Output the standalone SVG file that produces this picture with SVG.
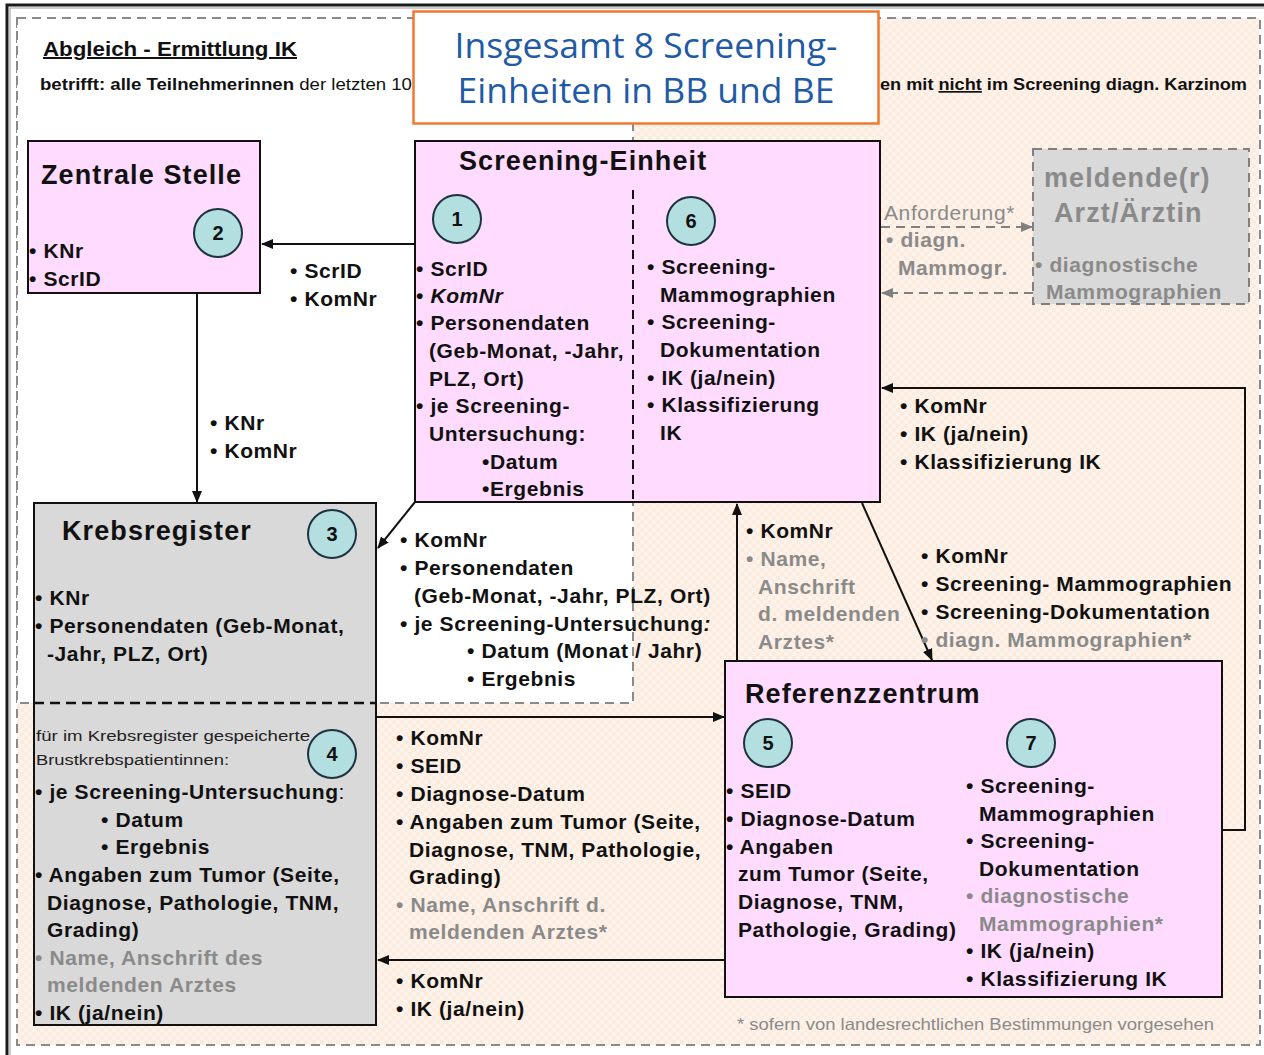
<svg xmlns="http://www.w3.org/2000/svg" width="1264" height="1055" viewBox="0 0 1264 1055">
<defs>
<style>
text{font-family:"Liberation Sans",Arial,sans-serif}
.b{font-weight:bold;font-size:21px;letter-spacing:0.6px;fill:#111}
.ttl{font-weight:bold;font-size:27px;letter-spacing:1.1px;fill:#111}
.g,.ttl.g,.b.g{fill:#8a8a8a}
.sm{font-size:15.5px;fill:#222}
.box{stroke:#111;stroke-width:2}
.pink{fill:#ffdcff}
.grey{fill:#d9d9d9}
.circ{fill:#b3dfe0;stroke:#1d3340;stroke-width:2}
.num{font-weight:bold;font-size:20px;fill:#111;text-anchor:middle}
.con{fill:none;stroke:#111;stroke-width:2}
.dcon{fill:none;stroke:#808080;stroke-width:2;stroke-dasharray:9 6}
</style>
<pattern id="peach" width="8" height="8" patternUnits="userSpaceOnUse">
<rect width="8" height="8" fill="#fef3ea"/>
<rect width="4" height="4" fill="#fcece0"/>
<rect x="4" y="4" width="4" height="4" fill="#fcece0"/>
</pattern>
<marker id="ah" markerWidth="12" markerHeight="10" refX="11" refY="5" orient="auto" markerUnits="userSpaceOnUse">
<path d="M0,0 L12,5 L0,10 Z" fill="#111"/>
</marker>
<marker id="ahg" markerWidth="12" markerHeight="10" refX="11" refY="5" orient="auto" markerUnits="userSpaceOnUse">
<path d="M0,0 L12,5 L0,10 Z" fill="#808080"/>
</marker>
</defs>

<rect width="1264" height="1055" fill="#fff"/>
<!-- outer frame -->
<rect x="7" y="5" width="1280" height="1080" fill="none" stroke="#1a1a1a" stroke-width="3"/>
<rect x="10" y="8" width="1280" height="1080" fill="none" stroke="#9a9a9a" stroke-width="1"/>

<!-- background regions -->
<rect x="17" y="18" width="1243" height="1027" fill="url(#peach)" stroke="#8a8a8a" stroke-width="2" stroke-dasharray="9 6"/>
<rect x="17" y="18" width="616" height="685" fill="#fff" stroke="#8a8a8a" stroke-width="2" stroke-dasharray="9 6"/>

<!-- header -->
<g id="header">
<text x="43" y="56" textLength="254" lengthAdjust="spacingAndGlyphs" style="font-weight:bold;font-size:20px;fill:#111;text-decoration:underline">Abgleich - Ermittlung IK</text>
<text x="40" y="90" textLength="372" lengthAdjust="spacingAndGlyphs" style="font-size:17px;fill:#111"><tspan font-weight="bold">betrifft: alle Teilnehmerinnen</tspan> der letzten 10</text>
<text x="880" y="90" textLength="367" lengthAdjust="spacingAndGlyphs" style="font-size:17px;fill:#111;font-weight:bold">en mit <tspan text-decoration="underline">nicht</tspan> im Screening diagn. Karzinom</text>
</g>

<g id="title">
<rect x="413.5" y="11.5" width="465" height="112" fill="#fff" stroke="#f07830" stroke-width="2.5"/>
<text x="646" y="58" text-anchor="middle" style="font-family:'Open Sans','Noto Sans',sans-serif;font-size:35.5px;fill:#1f5aa6">Insgesamt 8 Screening-</text>
<text x="646" y="103" text-anchor="middle" style="font-family:'Open Sans','Noto Sans',sans-serif;font-size:35.5px;fill:#1f5aa6">Einheiten in BB und BE</text>
</g>

<!-- connectors -->
<g id="connectors">
<line class="con" x1="415" y1="244" x2="262" y2="244" marker-end="url(#ah)"/>
<line class="con" x1="197" y1="293" x2="197" y2="502" marker-end="url(#ah)"/>
<line class="con" x1="415" y1="502" x2="378" y2="548" marker-end="url(#ah)"/>
<line class="con" x1="376" y1="717" x2="724" y2="717" marker-end="url(#ah)"/>
<line class="con" x1="725" y1="960" x2="378" y2="960" marker-end="url(#ah)"/>
<line class="con" x1="737" y1="661" x2="737" y2="504" marker-end="url(#ah)"/>
<line class="con" x1="862" y1="503" x2="932" y2="660" marker-end="url(#ah)"/>
<polyline class="con" points="1222,830 1245,830 1245,388 882,388" marker-end="url(#ah)"/>
<line class="dcon" x1="881" y1="227" x2="1032" y2="227" marker-end="url(#ahg)"/>
<line class="dcon" x1="1033" y1="293" x2="882" y2="293" marker-end="url(#ahg)"/>

<text class="b" x="290" y="278">• ScrID</text>
<text class="b" x="290" y="306">• KomNr</text>

<text class="b" x="210" y="430">• KNr</text>
<text class="b" x="210" y="458">• KomNr</text>

<text class="b" x="400" y="547">• KomNr</text>
<text class="b" x="400" y="575">• Personendaten</text>
<text class="b" x="414" y="603">(Geb-Monat, -Jahr, PLZ, Ort)</text>
<text class="b" x="400" y="631">• je Screening-Untersuchung<tspan font-style="italic">:</tspan></text>
<text class="b" x="467" y="658">• Datum (Monat / Jahr)</text>
<text class="b" x="467" y="686">• Ergebnis</text>

<text class="b" x="396" y="745">• KomNr</text>
<text class="b" x="396" y="773">• SEID</text>
<text class="b" x="396" y="801">• Diagnose-Datum</text>
<text class="b" x="396" y="829">• Angaben zum Tumor (Seite,</text>
<text class="b" x="409" y="857">Diagnose, TNM, Pathologie,</text>
<text class="b" x="409" y="884">Grading)</text>
<text class="b g" x="396" y="912">• Name, Anschrift d.</text>
<text class="b g" x="409" y="939">meldenden Arztes*</text>

<text class="b" x="396" y="988">• KomNr</text>
<text class="b" x="396" y="1016">• IK (ja/nein)</text>

<text class="b" x="746" y="538">• KomNr</text>
<text class="b g" x="746" y="566">• Name,</text>
<text class="b g" x="758" y="594">Anschrift</text>
<text class="b g" x="758" y="621">d. meldenden</text>
<text class="b g" x="758" y="649">Arztes*</text>

<text class="b" x="921" y="563">• KomNr</text>
<text class="b" x="921" y="591">• Screening- Mammographien</text>
<text class="b" x="921" y="619">• Screening-Dokumentation</text>
<text class="b g" x="921" y="647">• diagn. Mammographien*</text>

<text class="b" x="900" y="413">• KomNr</text>
<text class="b" x="900" y="441">• IK (ja/nein)</text>
<text class="b" x="900" y="469">• Klassifizierung IK</text>

<text class="b g" x="884" y="220" style="font-weight:normal">Anforderung*</text>
<text class="b g" x="886" y="247">• diagn.</text>
<text class="b g" x="898" y="275">Mammogr.</text>
</g>

<!-- Zentrale Stelle -->
<g id="zentrale">
<rect class="box pink" x="28" y="141" width="232" height="152"/>
<text class="ttl" x="41" y="184">Zentrale Stelle</text>
<circle class="circ" cx="218" cy="233" r="24"/>
<text class="num" x="218" y="240">2</text>
<text class="b" x="29" y="258">• KNr</text>
<text class="b" x="29" y="286">• ScrID</text>
</g>

<!-- Screening-Einheit -->
<g id="screening">
<rect class="box pink" x="415" y="141" width="465" height="361"/>
<text class="ttl" x="459" y="170">Screening-Einheit</text>
<line x1="633" y1="190" x2="633" y2="502" stroke="#111" stroke-width="2" stroke-dasharray="9 6"/>
<circle class="circ" cx="457" cy="219" r="24"/>
<text class="num" x="457" y="226">1</text>
<circle class="circ" cx="691" cy="221" r="24"/>
<text class="num" x="691" y="228">6</text>
<text class="b" x="416" y="276">• ScrID</text>
<text class="b" x="416" y="303">• <tspan font-style="italic">KomNr</tspan></text>
<text class="b" x="416" y="330">• Personendaten</text>
<text class="b" x="429" y="358">(Geb-Monat, -Jahr,</text>
<text class="b" x="429" y="386">PLZ, Ort)</text>
<text class="b" x="416" y="413">• je Screening-</text>
<text class="b" x="429" y="441">Untersuchung:</text>
<text class="b" x="482" y="469">•Datum</text>
<text class="b" x="482" y="496">•Ergebnis</text>
<text class="b" x="647" y="274">• Screening-</text>
<text class="b" x="660" y="302">Mammographien</text>
<text class="b" x="647" y="329">• Screening-</text>
<text class="b" x="660" y="357">Dokumentation</text>
<text class="b" x="647" y="385">• IK (ja/nein)</text>
<text class="b" x="647" y="412">• Klassifizierung</text>
<text class="b" x="660" y="440">IK</text>
</g>

<!-- meldende Arzt -->
<g id="arzt">
<rect x="1033" y="149" width="216" height="155" fill="#d9d9d9" stroke="#808080" stroke-width="2" stroke-dasharray="9 6"/>
<text class="ttl g" x="1044" y="187">meldende(r)</text>
<text class="ttl g" x="1054" y="222">Arzt/Ärztin</text>
<text class="b g" x="1035" y="272">• diagnostische</text>
<text class="b g" x="1046" y="299">Mammographien</text>
</g>

<!-- Krebsregister -->
<g id="krebsregister">
<rect class="box grey" x="34" y="503" width="342" height="522"/>
<line x1="34" y1="703" x2="376" y2="703" stroke="#111" stroke-width="2.5" stroke-dasharray="10 6"/>
<text class="ttl" x="62" y="540">Krebsregister</text>
<circle class="circ" cx="332" cy="534" r="24"/>
<text class="num" x="332" y="541">3</text>
<text class="b" x="35" y="605">• KNr</text>
<text class="b" x="35" y="633">• Personendaten (Geb-Monat,</text>
<text class="b" x="47" y="661">-Jahr, PLZ, Ort)</text>
<text class="sm" x="36" y="741" textLength="274" lengthAdjust="spacingAndGlyphs">für im Krebsregister gespeicherte</text>
<text class="sm" x="36" y="765" textLength="193" lengthAdjust="spacingAndGlyphs">Brustkrebspatientinnen:</text>
<circle class="circ" cx="332" cy="754" r="24"/>
<text class="num" x="332" y="761">4</text>
<text class="b" x="35" y="799">• je Screening-Untersuchung<tspan font-weight="normal">:</tspan></text>
<text class="b" x="101" y="827">• Datum</text>
<text class="b" x="101" y="854">• Ergebnis</text>
<text class="b" x="35" y="882">• Angaben zum Tumor (Seite,</text>
<text class="b" x="47" y="910">Diagnose, Pathologie, TNM,</text>
<text class="b" x="47" y="937">Grading)</text>
<text class="b g" x="35" y="965">• Name, Anschrift des</text>
<text class="b g" x="47" y="992">meldenden Arztes</text>
<text class="b" x="35" y="1020">• IK (ja/nein)</text>
</g>

<!-- Referenzzentrum -->
<g id="referenz">
<rect class="box pink" x="725" y="661" width="497" height="336"/>
<text class="ttl" x="745" y="703">Referenzzentrum</text>
<circle class="circ" cx="768" cy="743" r="24"/>
<text class="num" x="768" y="750">5</text>
<circle class="circ" cx="1031" cy="743" r="24"/>
<text class="num" x="1031" y="750">7</text>
<text class="b" x="726" y="798">• SEID</text>
<text class="b" x="726" y="826">• Diagnose-Datum</text>
<text class="b" x="726" y="854">• Angaben</text>
<text class="b" x="738" y="881">zum Tumor (Seite,</text>
<text class="b" x="738" y="909">Diagnose, TNM,</text>
<text class="b" x="738" y="937">Pathologie, Grading)</text>
<text class="b" x="966" y="793">• Screening-</text>
<text class="b" x="979" y="821">Mammographien</text>
<text class="b" x="966" y="848">• Screening-</text>
<text class="b" x="979" y="876">Dokumentation</text>
<text class="b g" x="966" y="903">• diagnostische</text>
<text class="b g" x="979" y="931">Mammographien*</text>
<text class="b" x="966" y="958">• IK (ja/nein)</text>
<text class="b" x="966" y="986">• Klassifizierung IK</text>
</g>

<text x="737" y="1030" textLength="477" lengthAdjust="spacingAndGlyphs" style="font-size:16.5px;fill:#8a8a8a">* sofern von landesrechtlichen Bestimmungen  vorgesehen</text>
</svg>
